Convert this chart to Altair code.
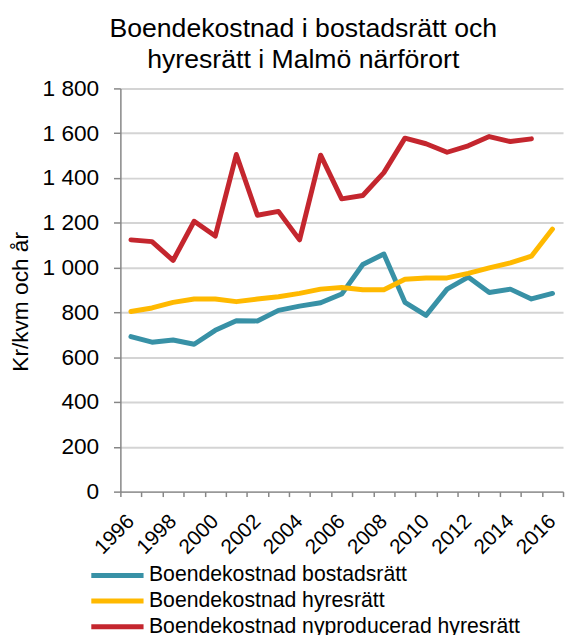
import altair as alt
import pandas as pd

years = [str(y) for y in range(1996, 2017)]
bostadsratt = [692, 667, 677, 658, 720, 763, 762, 809, 828, 843, 882, 1014, 1061, 845, 787, 904, 958, 889, 904, 860, 885]
hyresratt = [804, 820, 845, 860, 860, 848, 860, 870, 885, 904, 911, 901, 901, 948, 954, 954, 974, 999, 1021, 1051, 1172]
nyproducerad = [1124, 1116, 1032, 1207, 1141, 1505, 1234, 1251, 1124, 1502, 1307, 1322, 1424, 1578, 1553, 1515, 1544, 1585, 1563, 1575, None]

series_names = [
    "Boendekostnad bostadsrätt",
    "Boendekostnad hyresrätt",
    "Boendekostnad nyproducerad hyresrätt",
]
series_colors = ["#3891A6", "#FFB900", "#C4262E"]

rows = []
for name, vals in zip(series_names, [bostadsratt, hyresratt, nyproducerad]):
    for y, v in zip(years, vals):
        if v is not None:
            rows.append({"year": y, "value": v, "serie": name})
df = pd.DataFrame(rows)

FONT = "Liberation Sans"

chart = alt.Chart(df).mark_line(strokeWidth=5, strokeCap="round", strokeJoin="round").encode(
    x=alt.X(
        "year:O",
        title=None,
        bandPosition=0.5,
        scale=alt.Scale(type="band", domain=years, paddingInner=0, paddingOuter=0),
        axis=alt.Axis(
            tickBand="extent",
            labelAngle=-45,
            labelFontSize=21,
            labelFont=FONT,
            labelColor="black",
            labelPadding=14,
            labelOffset=-8,
            labelExpr="toNumber(datum.value) % 2 == 0 ? datum.value : ''",
            domainColor="#868686",
            domainWidth=1.5,
            tickColor="#868686",
            tickWidth=1.5,
            tickSize=5,
            grid=False,
        ),
    ),
    y=alt.Y(
        "value:Q",
        title="Kr/kvm och år",
        scale=alt.Scale(domain=[0, 1800], nice=False),
        axis=alt.Axis(
            values=list(range(0, 1801, 200)),
            labelExpr="replace(format(datum.value, ','), ',', ' ')",
            labelFontSize=23,
            labelFont=FONT,
            labelColor="black",
            labelPadding=15,
            tickSize=7,
            tickColor="#868686",
            tickWidth=1.5,
            domainColor="#868686",
            domainWidth=1.5,
            gridColor="#D4D4D4",
            gridWidth=2,
            titleFont=FONT,
            titleFontSize=23,
            titleFontWeight="normal",
            titleColor="black",
            titleAngle=-90,
            titleBaseline="alphabetic",
            titleX=-94,
            titleY=216,
        ),
    ),
    color=alt.Color(
        "serie:N",
        scale=alt.Scale(domain=series_names, range=series_colors),
        legend=alt.Legend(
            title=None,
            orient="none",
            legendX=-32,
            legendY=481,
            direction="vertical",
            symbolType="stroke",
            symbolSize=2809,
            symbolStrokeWidth=5,
            clipHeight=26,
            rowPadding=0,
            padding=0,
            labelOffset=3,
            labelFont=FONT,
            labelFontSize=21.5,
            labelColor="black",
            labelLimit=500,
        ),
    ),
).properties(
    width=449,
    height=409,
    padding={"left": 114, "top": 77, "right": 2, "bottom": 152},
    autosize=alt.AutoSizeParams(type="none"),
    title=alt.TitleParams(
        text=["Boendekostnad i bostadsrätt och", "hyresrätt i Malmö närförort"],
        font=FONT,
        fontSize=27,
        fontWeight="normal",
        color="black",
        anchor="middle",
        frame="group",
        dx=-39,
        lineHeight=31,
    ),
).configure_view(stroke=None)

chart.save("out.html", embed_options={"renderer": "svg", "actions": False})
